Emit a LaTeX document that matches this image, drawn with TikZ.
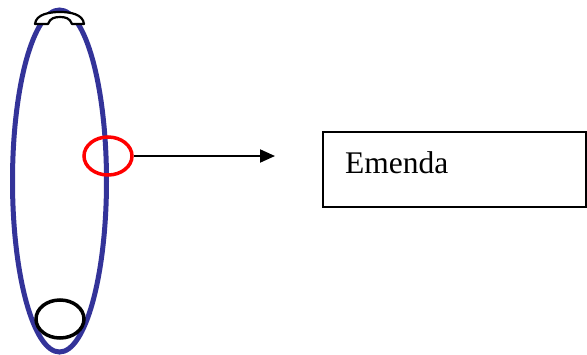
\documentclass[tikz,border=0pt]{standalone}
\usepackage{fontspec}
\setmainfont{Liberation Serif}
\usetikzlibrary{arrows.meta,shapes.geometric}
\definecolor{ringblue}{HTML}{333399}
\tikzset{
  ring/.style={draw=ringblue, line width=5pt},
  marker/.style={ellipse, line width=3.5pt, minimum width=48pt, minimum height=38pt, inner sep=0pt},
  conn/.style={line width=2pt, -{Triangle[length=15pt,width=13pt]}},
  labelbox/.style={draw, line width=1.5pt}
}
\begin{document}
\begin{tikzpicture}[x=1pt,y=-1pt]
\useasboundingbox (0,0) rectangle (587,354);
% big ring
\draw[ring] (59.5,181) ellipse [x radius=47, y radius=171];
% top cap
\draw[fill=white, line width=2.2pt, line join=round]
  (35,24) .. controls (36,14) and (50,12) .. (60,12)
  .. controls (70,12) and (83,14) .. (84,24)
  -- (72,24) .. controls (70,18) and (65,17) .. (60,17)
  .. controls (55,17) and (50,18) .. (48,24) -- cycle;
% bottom marker
\node[draw=black, marker] (bot) at (60,319) {};
% red marker
\node[draw=red, marker] (red) at (108,156) {};
\coordinate (tip) at (275,156);
\draw[conn] (red.east) -- (tip);
% box
\draw[labelbox] (323,132) rectangle (586,207);
\node[anchor=base west, inner sep=0pt, font=\fontsize{31.5}{36}\selectfont] (lab) at (345,173) {Emenda};
\end{tikzpicture}
\end{document}
